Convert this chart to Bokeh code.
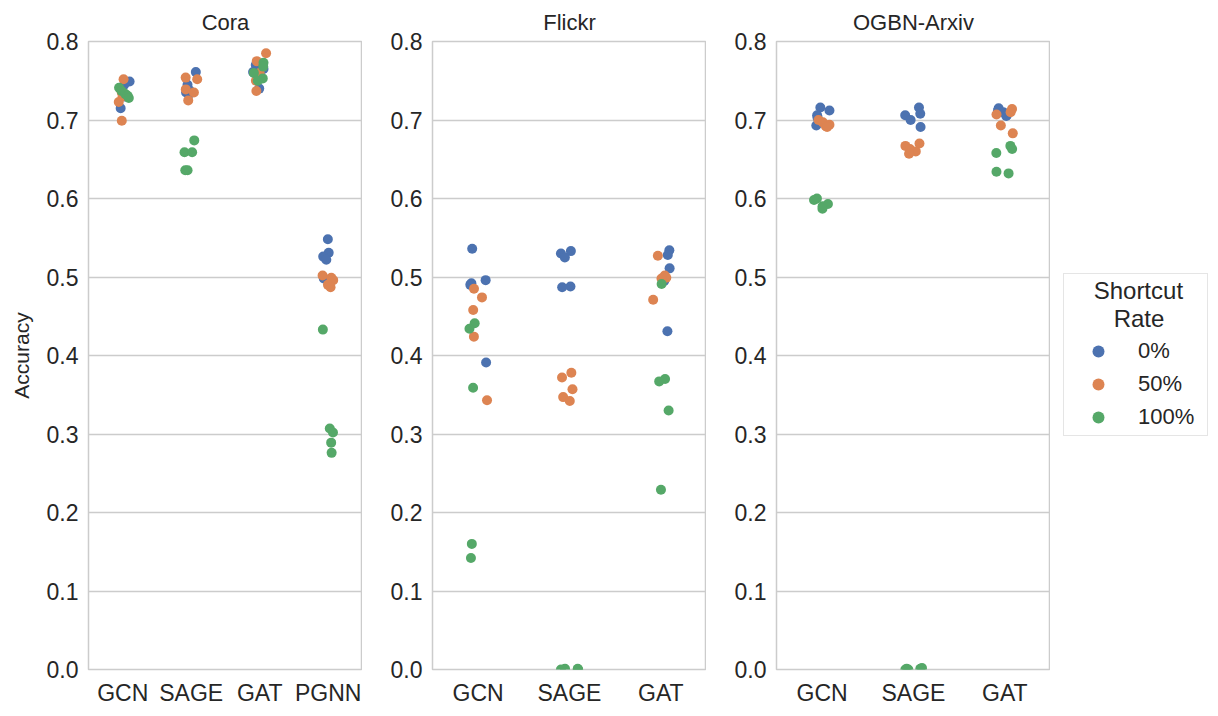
from bokeh.plotting import figure
from bokeh.models import (ColumnDataSource, FactorRange, Range1d, FixedTicker,
                          NumeralTickFormatter, Legend, LegendItem)
from bokeh.transform import jitter
from bokeh.layouts import row
from bokeh.embed import file_html
from bokeh.resources import INLINE

# ---------------- data ----------------
RATES = ["0%", "50%", "100%"]
COLORS = ["#4c72b0", "#dd8452", "#55a868"]
SEEDS = 5

cora_models = ["GCN", "SAGE", "GAT", "PGNN"]
cora_0 = [0.749, 0.745, 0.735, 0.730, 0.715,
          0.761, 0.745, 0.738, 0.735, 0.733,
          0.770, 0.765, 0.761, 0.755, 0.740,
          0.548, 0.531, 0.526, 0.522, 0.498]
cora_50 = [0.752, 0.735, 0.730, 0.723, 0.699,
           0.754, 0.752, 0.739, 0.735, 0.725,
           0.785, 0.775, 0.760, 0.750, 0.737,
           0.502, 0.499, 0.496, 0.490, 0.487]
cora_100 = [0.741, 0.737, 0.733, 0.731, 0.728,
            0.674, 0.659, 0.659, 0.636, 0.636,
            0.773, 0.768, 0.760, 0.753, 0.750,
            0.433, 0.307, 0.302, 0.289, 0.276]

flickr_models = ["GCN", "SAGE", "GAT"]
flickr_0 = [0.536, 0.496, 0.492, 0.490, 0.391,
            0.533, 0.530, 0.525, 0.488, 0.487,
            0.534, 0.528, 0.511, 0.495, 0.431]
flickr_50 = [0.485, 0.474, 0.458, 0.424, 0.343,
             0.378, 0.372, 0.357, 0.347, 0.342,
             0.527, 0.502, 0.499, 0.498, 0.471]
flickr_100 = [0.441, 0.434, 0.359, 0.160, 0.142,
              0.001, 0.000, 0.000, 0.001, 0.000,
              0.491, 0.370, 0.367, 0.330, 0.229]

arxiv_models = ["GCN", "SAGE", "GAT"]
arxiv_0 = [0.716, 0.712, 0.706, 0.703, 0.693,
           0.716, 0.708, 0.706, 0.700, 0.691,
           0.715, 0.712, 0.710, 0.706, 0.705]
arxiv_50 = [0.700, 0.697, 0.694, 0.692, 0.691,
            0.670, 0.667, 0.663, 0.660, 0.657,
            0.714, 0.710, 0.707, 0.693, 0.683]
arxiv_100 = [0.600, 0.598, 0.593, 0.590, 0.587,
             0.001, 0.000, 0.000, 0.002, 0.001,
             0.667, 0.663, 0.658, 0.634, 0.632]

Y_TICKS = [0.0, 0.1, 0.2, 0.3, 0.4, 0.5, 0.6, 0.7, 0.8]
LEGEND_TITLE = ["Shortcut", "Rate"]

# ---------------- styling ----------------
FONT = "Liberation Sans"
TEXT = "#262626"
GRID = "#cccccc"


def panel(title, models, series, border_left, y_label=None):
    p = figure(x_range=FactorRange(factors=models, range_padding=0),
               y_range=Range1d(0, 0.8),
               frame_width=274, frame_height=628,
               min_border_left=border_left, min_border_right=0,
               min_border_top=40, min_border_bottom=40,
               output_backend="svg", toolbar_location=None, title=title)
    p.title.align = "center"
    p.title.text_font = FONT
    p.title.text_font_size = "22px"
    p.title.text_font_style = "normal"
    p.title.text_color = TEXT
    p.title.text_line_height = 1.0
    p.title.standoff = 14

    p.outline_line_color = GRID
    p.outline_line_width = 1.5
    p.xgrid.visible = False
    p.ygrid.grid_line_color = GRID
    p.ygrid.grid_line_width = 1.5
    p.background_fill_color = "white"
    p.border_fill_color = "white"

    for ax in (p.xaxis[0], p.yaxis[0]):
        ax.axis_line_color = None
        ax.major_tick_line_color = None
        ax.minor_tick_line_color = None
        ax.major_tick_out = 0
        ax.major_tick_in = 0
        ax.minor_tick_out = 0
        ax.major_label_text_font = FONT
        ax.major_label_text_font_size = "23px"
        ax.major_label_text_color = TEXT
        ax.major_label_standoff = 10

    p.yaxis.ticker = FixedTicker(ticks=Y_TICKS)
    p.yaxis.formatter = NumeralTickFormatter(format="0.0")
    p.ygrid.ticker = FixedTicker(ticks=Y_TICKS)
    if y_label:
        p.yaxis.axis_label = y_label
        p.yaxis.axis_label_text_font = FONT
        p.yaxis.axis_label_text_font_size = "21px"
        p.yaxis.axis_label_text_font_style = "normal"
        p.yaxis.axis_label_text_color = TEXT
        p.yaxis.axis_label_standoff = 11

    model_col = [m for m in models for _ in range(SEEDS)]
    for vals, color in zip(series, COLORS):
        src = ColumnDataSource(dict(model=model_col, acc=vals))
        p.scatter(x=jitter("model", width=0.2, range=p.x_range), y="acc",
                  source=src, size=10, fill_color=color, line_color=None)
    return p


p1 = panel("Cora", cora_models, [cora_0, cora_50, cora_100], 88, y_label="Accuracy")
p2 = panel("Flickr", flickr_models, [flickr_0, flickr_50, flickr_100], 70)
p3 = panel("OGBN-Arxiv", arxiv_models, [arxiv_0, arxiv_50, arxiv_100], 70)

# legend-only figure (key glyphs with no drawable position, no axes)
p4 = figure(x_range=Range1d(0, 1), y_range=Range1d(0, 1),
            frame_width=164, frame_height=628,
            min_border_left=0, min_border_right=0,
            min_border_top=40, min_border_bottom=40,
            output_backend="svg", toolbar_location=None)
p4.axis.visible = False
p4.grid.visible = False
p4.outline_line_color = None
p4.background_fill_color = "white"
p4.border_fill_color = "white"
keys = []
for color in COLORS:
    src = ColumnDataSource(dict(x=[float("nan")], y=[float("nan")]))
    keys.append(p4.scatter(x="x", y="y", source=src, size=8,
                           fill_color=color, line_color=None))

NB = "\u00a0"
title_txt = NB * 4 + LEGEND_TITLE[0] + "\n" + NB * 7 + LEGEND_TITLE[1]
legend = Legend(items=[LegendItem(label=lab, renderers=[r]) for lab, r in zip(RATES, keys)],
                title=title_txt, location=(13, 233))
legend.title_text_font = FONT
legend.title_text_font_size = "24px"
legend.title_text_font_style = "normal"
legend.title_text_color = TEXT
legend.title_standoff = 3
legend.label_text_font = FONT
legend.label_text_font_size = "22px"
legend.label_text_color = TEXT
legend.glyph_width = 62
legend.glyph_height = 30
legend.label_height = 30
legend.label_standoff = 9
legend.label_width = 66
legend.spacing = 3
legend.padding = 3
legend.margin = 0
legend.border_line_color = GRID
legend.border_line_width = 1.5
legend.background_fill_color = "white"
p4.add_layout(legend, "center")

layout = row(p1, p2, p3, p4)
open("out.html", "w").write(file_html(layout, INLINE))
